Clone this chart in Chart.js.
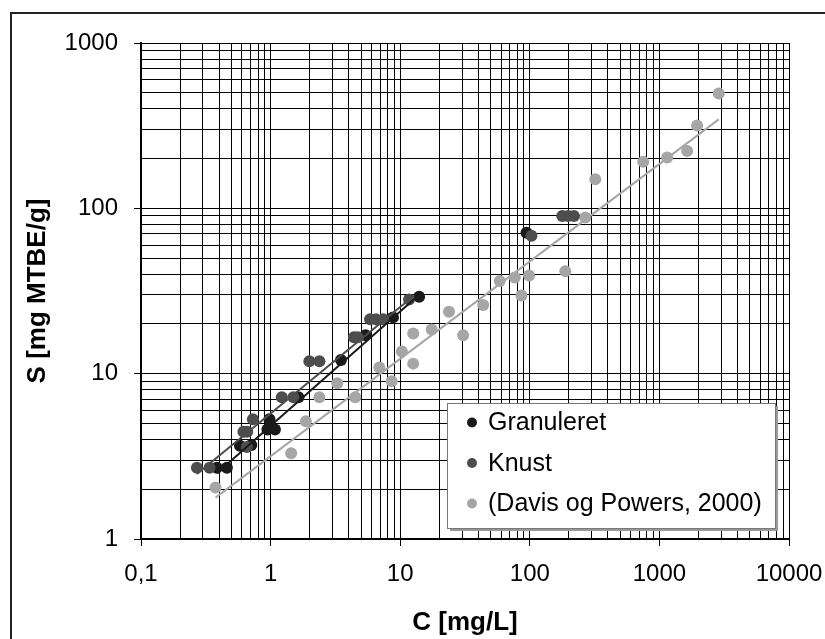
<!DOCTYPE html>
<html>
<head>
<meta charset="utf-8">
<script src="https://cdn.jsdelivr.net/npm/chart.js@4.4.0/dist/chart.umd.min.js"></script>
<style>
  html, body { margin: 0; padding: 0; background: #fff; overflow: hidden; }
  #frame { position: absolute; left: 10px; top: 12px; width: 900px; height: 700px; border-left: 2px solid #222; border-top: 2px solid #222; }
  #wrap { position: absolute; left: 0; top: 0; width: 825px; height: 639px; }
</style>
</head>
<body>
<div id="frame"></div>
<div id="wrap"><canvas id="myChart" width="825" height="639"></canvas></div>
<script>
// values (C in mg/L, S in mg MTBE/g)
const granC = [0.385, 0.46, 0.58, 0.71, 0.945, 0.98, 1.08, 1.64, 3.49, 5.4, 8.8, 14, 94.3];
const granS = [2.7, 2.7, 3.66, 3.7, 4.6, 5.3, 4.6, 7.2, 12.1, 17.1, 21.9, 29.2, 71.1];

const knustC = [0.27, 0.338, 0.617, 0.656, 0.66, 0.73, 1.22, 1.5, 1.99, 2.38, 4.4, 4.7, 5.85, 6.5, 7.4, 11.7, 103, 178, 197, 219];
const knustS = [2.7, 2.7, 4.45, 3.6, 4.45, 5.3, 7.2, 7.2, 11.9, 11.9, 16.6, 16.6, 21.3, 21.3, 21.3, 28.1, 68.2, 90, 90, 90];

const davisC = [0.376, 1.44, 1.87, 2.38, 3.27, 4.5, 6.9, 8.6, 10.3, 12.6, 12.6, 17.5, 23.8, 30.6, 43.7, 58.6, 76.6, 86.2, 98.6, 188, 268, 320, 750, 1148, 1637, 1954, 2870];
const davisS = [2.05, 3.3, 5.15, 7.2, 8.74, 7.2, 10.9, 9.0, 13.6, 11.5, 17.5, 18.5, 23.7, 17.1, 26.0, 36.3, 38.2, 29.7, 39.3, 41.7, 88, 150, 191, 203, 222, 317, 495];

// trend lines (end points)
const granFitC = [0.385, 14];
const granFitS = [2.5, 30];
const knustFitC = [0.27, 11.7];
const knustFitS = [2.47, 28];
const davisFitC = [0.376, 2870];
const davisFitS = [1.78, 345];

const xDecades = [0.1, 1, 10, 100, 1000, 10000];
const xTickLabels = ["0,1", "1", "10", "100", "1000", "10000"];
const yDecades = [1, 10, 100, 1000];
const yTickLabels = ["1", "10", "100", "1000"];

const FONT = '"Liberation Sans", Arial, sans-serif';

function pts(xs, ys) {
  return xs.map((x, i) => ({ x: x, y: ys[i] }));
}

// decade ticks plus 2..9 in between
function logTicks(decades) {
  const out = [];
  decades.forEach((d, i) => {
    out.push({ value: d, major: true });
    if (i < decades.length - 1) {
      for (let k = 2; k <= 9; k++) out.push({ value: d * k, major: false });
    }
  });
  return out;
}

function tickLabel(decades, labels) {
  return function (value, index, ticks) {
    const t = ticks[index];
    if (!t.major) return "";
    return labels[decades.indexOf(t.value)];
  };
}

const majorTickColor = (c) => (c.tick && c.tick.major ? "#000" : "rgba(0,0,0,0)");

// legend box inside the plot, Excel style
const legendBox = {
  id: "legendBox",
  afterDatasetsDraw(chart) {
    const { ctx, chartArea } = chart;
    const left = chartArea.left + 306, top = chartArea.top + 360, w = 328, h = 125;
    ctx.save();
    ctx.fillStyle = "#999";
    ctx.fillRect(left + 3, top + 3, w, h);
    ctx.fillStyle = "#fff";
    ctx.fillRect(left, top, w, h);
    ctx.strokeStyle = "#777";
    ctx.lineWidth = 1;
    ctx.strokeRect(left + 0.5, top + 0.5, w, h);
    ctx.font = "25px " + FONT;
    ctx.textBaseline = "middle";
    chart.data.datasets.filter((d) => !d.showLine).forEach((d, i) => {
      const y = top + 19.5 + i * 40.5;
      ctx.fillStyle = d.backgroundColor;
      ctx.beginPath();
      ctx.arc(left + 25, y, 5, 0, Math.PI * 2);
      ctx.fill();
      ctx.fillStyle = "#000";
      ctx.fillText(d.label, left + 41, y + 1);
    });
    ctx.restore();
  },
};

var ctx = document.getElementById("myChart");
var myChart = new Chart(ctx, {
  type: "scatter",
  data: {
    datasets: [
      { label: "Granuleret", data: pts(granC, granS), backgroundColor: "#1a1a1a", borderWidth: 0, pointRadius: 6, order: 2 },
      { label: "Knust", data: pts(knustC, knustS), backgroundColor: "#4d4d4d", borderWidth: 0, pointRadius: 6, order: 1 },
      { label: "(Davis og Powers, 2000)", data: pts(davisC, davisS), backgroundColor: "#a6a6a6", borderWidth: 0, pointRadius: 6, order: 3 },
      { label: "fit1", data: pts(granFitC, granFitS), showLine: true, borderColor: "#1a1a1a", borderWidth: 2, pointRadius: 0, order: 0 },
      { label: "fit2", data: pts(knustFitC, knustFitS), showLine: true, borderColor: "#4d4d4d", borderWidth: 2, pointRadius: 0, order: 0 },
      { label: "fit3", data: pts(davisFitC, davisFitS), showLine: true, borderColor: "#a6a6a6", borderWidth: 2, pointRadius: 0, order: 0 },
    ],
  },
  options: {
    responsive: false,
    animation: false,
    devicePixelRatio: 1,
    layout: { padding: { left: 0, top: 43, right: 36, bottom: 0 } },
    plugins: {
      legend: { display: false },
      tooltip: { enabled: false },
    },
    scales: {
      x: {
        type: "logarithmic",
        position: "bottom",
        min: 0.1,
        max: 10000,
        afterBuildTicks: (s) => { s.ticks = logTicks(xDecades); },
        afterFit: (s) => { s.height = 100; s.paddingLeft = 0; s.paddingRight = 0; },
        border: { color: "#000", width: 2 },
        grid: { color: "#000", lineWidth: 1, drawTicks: true, tickLength: 7, tickColor: majorTickColor },
        ticks: {
          autoSkip: false,
          maxRotation: 0,
          padding: 14,
          color: "#000",
          font: { family: FONT, size: 24 },
          callback: tickLabel(xDecades, xTickLabels),
        },
        title: {
          display: true,
          text: "C [mg/L]",
          color: "#000",
          font: { family: FONT, size: 26, weight: "bold" },
          padding: { top: 0, bottom: 1 },
        },
      },
      y: {
        type: "logarithmic",
        min: 1,
        max: 1000,
        afterBuildTicks: (s) => { s.ticks = logTicks(yDecades); },
        afterFit: (s) => { s.width = 141; s.paddingTop = 0; s.paddingBottom = 0; },
        border: { color: "#000", width: 2 },
        grid: { color: "#000", lineWidth: 1, drawTicks: true, tickLength: 7, tickColor: majorTickColor },
        ticks: {
          autoSkip: false,
          padding: 16,
          color: "#000",
          font: { family: FONT, size: 24 },
          callback: tickLabel(yDecades, yTickLabels),
        },
        title: {
          display: true,
          text: "S [mg MTBE/g]",
          color: "#000",
          font: { family: FONT, size: 26, weight: "bold" },
          padding: { top: 22, bottom: 0 },
        },
      },
    },
  },
  plugins: [legendBox],
});
</script>
</body>
</html>
